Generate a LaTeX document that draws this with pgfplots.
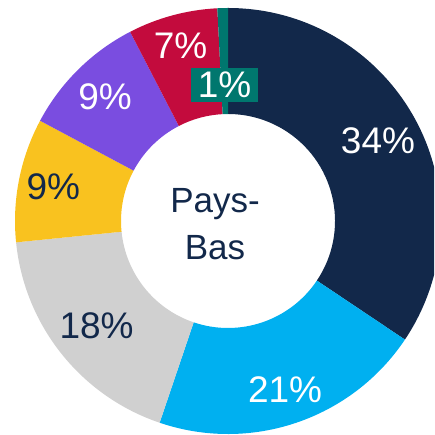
\documentclass[border=0pt]{standalone}
\usepackage{pgfplots}
\usepackage{pgfplotstable}
\pgfplotsset{compat=1.18}
\usepackage{fontspec}
\setmainfont{Liberation Sans}
\definecolor{cnavy}{HTML}{12284A}
\definecolor{cblue}{HTML}{00B0F0}
\definecolor{cgray}{HTML}{D0D0D0}
\definecolor{cyellow}{HTML}{F9C21F}
\definecolor{cpurple}{HTML}{7A4DE0}
\definecolor{ccrimson}{HTML}{C30B3D}
\definecolor{cteal}{HTML}{00776E}

% share (%), label, label radius, fill colour, text colour, label box
\pgfplotstableread{
v    lab lr  fc       tc     bx
34.4 34  170 cnavy    white  none
20.8 21  178 cblue    white  none
18.2 18  168 cgray    cnavy  none
9.4  9   178 cyellow  cnavy  none
9.6  9   175 cpurple  white  none
6.8  7   182 ccrimson white  none
0.8  1   136 cteal    white  cteal
}\shares

\begin{document}
\begin{tikzpicture}
\begin{axis}[
  x=1pt, y=1pt, xmin=0, xmax=434, ymin=0, ymax=435,
  hide axis, clip=true,
]
\pgfplotstablegetrowsof{\shares}
\pgfmathtruncatemacro\N{\pgfplotsretval-1}
\gdef\cum{90}
\def\cx{228}\def\cy{214}\def\Ro{213}\def\Ri{107}
\pgfplotsforeachungrouped \i in {0,...,\N}{
  \pgfplotstablegetelem{\i}{v}\of\shares \let\v\pgfplotsretval
  \pgfplotstablegetelem{\i}{lab}\of\shares \let\lab\pgfplotsretval
  \pgfplotstablegetelem{\i}{lr}\of\shares \let\lr\pgfplotsretval
  \pgfplotstablegetelem{\i}{fc}\of\shares \let\fc\pgfplotsretval
  \pgfplotstablegetelem{\i}{tc}\of\shares \let\tc\pgfplotsretval
  \pgfplotstablegetelem{\i}{bx}\of\shares \let\bx\pgfplotsretval
  \pgfmathsetmacro\a{\cum}
  \pgfmathsetmacro\b{\cum-3.6*\v}
  \pgfmathsetmacro\m{(\a+\b)/2}
  \pgfmathsetmacro\xoa{\cx+\Ro*cos(\a)}
  \pgfmathsetmacro\yoa{\cy+\Ro*sin(\a)}
  \pgfmathsetmacro\xib{\cx+\Ri*cos(\b)}
  \pgfmathsetmacro\yib{\cy+\Ri*sin(\b)}
  \pgfmathsetmacro\lx{\cx+\lr*cos(\m)}
  \pgfmathsetmacro\ly{\cy+\lr*sin(\m)}
  \edef\temp{%
    \noexpand\fill[\fc] (axis cs:\xoa,\yoa) arc[start angle=\a, end angle=\b, radius=\Ro pt]
      -- (axis cs:\xib,\yib) arc[start angle=\b, end angle=\a, radius=\Ri pt] -- cycle;
    \noexpand\node[text=\tc, fill=\bx, inner xsep=7pt, inner ysep=4pt,
      font=\noexpand\fontsize{37}{37}\noexpand\selectfont] at (axis cs:\lx,\ly) {\lab\noexpand\%};
  }
  \temp
  \xdef\cum{\b}
}
\node[text=cnavy, align=center, inner sep=0pt, font=\fontsize{35}{47}\selectfont] at (axis cs:215,211) {Pays-\\Bas};
\end{axis}
\pgfresetboundingbox
\useasboundingbox (current axis.south west) rectangle (current axis.north east);
\end{tikzpicture}
\end{document}
